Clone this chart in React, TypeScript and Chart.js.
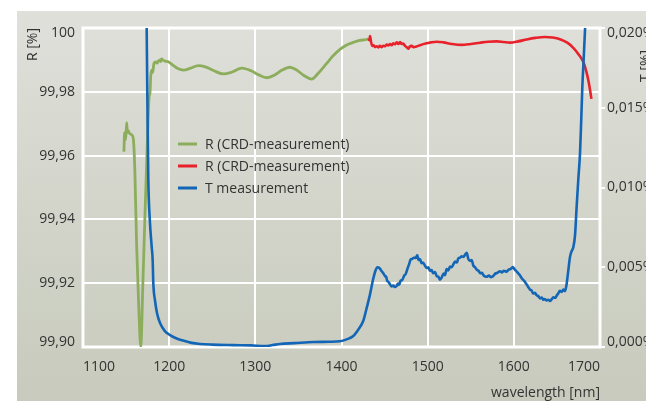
import React, { useEffect, useRef } from 'react';
import { Chart, registerables } from 'chart.js';

Chart.register(...registerables);

const FONT = '"Open Sans", "DejaVu Sans", sans-serif';
const TEXT = '#333333';

// ---- axis ticks ----
const X_TICKS = [1100, 1200, 1300, 1400, 1500, 1600, 1700];
const X_TICK_LABELS = ['1100', '1200', '1300', '1400', '1500', '1600', '1700'];
const R_TICKS = [99.9, 99.92, 99.94, 99.96, 99.98, 100];
const R_TICK_LABELS = ['99,90', '99,92', '99,94', '99,96', '99,98', '100'];
const T_TICKS = [0, 0.005, 0.01, 0.015, 0.02];
const T_TICK_LABELS = ['0,000%', '0,005%', '0,010%', '0,015%', '0,020%'];

const SERIES_LABELS = ['R (CRD-measurement)', 'R (CRD-measurement)', 'T measurement'];
const SERIES_COLORS = ['#8cae5c', '#e8212b', '#1366b6'];

// ---- R (CRD) first part, green ----
const GREEN_NM = [
  1147.5, 1148.3, 1149.5, 1150.7, 1151.5, 1152.5, 1153.7, 1155.5, 1157.2, 1158.6,
  1160.2, 1162.3, 1164.8, 1167.0, 1169.6, 1172.0, 1174.3, 1176.6, 1177.8, 1178.6,
  1179.7, 1180.8, 1182.4, 1184.7, 1186.0, 1187.4, 1189.4, 1190.3, 1191.3, 1192.8,
  1195.2, 1199.0, 1205.0, 1210.0, 1216.4, 1225.0, 1233.8, 1242.0, 1252.0, 1262.8,
  1273.0, 1284.2, 1295.0, 1304.0, 1313.2, 1322.0, 1331.0, 1340.2, 1348.0, 1356.0,
  1365.4, 1373.0, 1382.8, 1390.0, 1398.2, 1406.0, 1413.7, 1421.0, 1429.2, 1431.2,
];
const GREEN_R = [
  99.9612, 99.9672, 99.965, 99.9703, 99.9672, 99.9678, 99.9671, 99.9667, 99.9663, 99.9648,
  99.955, 99.9314, 99.912, 99.9002, 99.921, 99.942, 99.961, 99.978, 99.98, 99.985,
  99.9868, 99.986, 99.9889, 99.9894, 99.989, 99.9896, 99.99, 99.9895, 99.9903, 99.9899,
  99.9896, 99.9894, 99.9882, 99.9873, 99.9868, 99.9874, 99.9882, 99.9878, 99.9866, 99.9856,
  99.9862, 99.9874, 99.9866, 99.9853, 99.9844, 99.9852, 99.9868, 99.9877, 99.9868, 99.9852,
  99.984, 99.9858, 99.9889, 99.9912, 99.9933, 99.9947, 99.9955, 99.9961, 99.9964, 99.9966,
];

// ---- R (CRD) second part, red ----
const RED_NM = [
  1431.2, 1432.2, 1433.1, 1434.2, 1435.8, 1437.5, 1439.0, 1440.8, 1442.5, 1444.5,
  1446.6, 1448.5, 1450.5, 1452.5, 1454.3, 1456.3, 1458.2, 1460.0, 1462.1, 1464.0,
  1466.0, 1467.9, 1469.8, 1471.7, 1473.5, 1475.5, 1477.5, 1479.3, 1481.4, 1483.5,
  1487.2, 1492.0, 1498.8, 1504.0, 1510.5, 1518.2, 1528.0, 1539.5, 1550.0, 1560.8,
  1570.0, 1580.0, 1588.0, 1595.5, 1605.0, 1614.9, 1625.0, 1636.1, 1645.0, 1653.5,
  1662.0, 1669.0, 1675.0, 1680.6, 1684.0, 1686.4, 1688.5, 1690.0,
];
const RED_R = [
  99.9966, 99.9962, 99.9975, 99.9958, 99.9944, 99.9946, 99.994, 99.9943, 99.9939, 99.9944,
  99.994, 99.9944, 99.9943, 99.9948, 99.9945, 99.995, 99.9946, 99.9952, 99.9949, 99.9955,
  99.995, 99.9956, 99.995, 99.9951, 99.9945, 99.994, 99.9935, 99.9942, 99.9944, 99.994,
  99.9942, 99.9947, 99.9952, 99.9955, 99.9957, 99.9955, 99.995, 99.9947, 99.995, 99.9954,
  99.9957, 99.9958, 99.9956, 99.9954, 99.9958, 99.9964, 99.9969, 99.9972, 99.997, 99.9965,
  99.9954, 99.9938, 99.9918, 99.9894, 99.9865, 99.9837, 99.9805, 99.9778,
];

// ---- T measurement, blue (right axis, %) ----
const BLUE_NM = [
  1173.2, 1173.9, 1174.8, 1175.8, 1177.5, 1179.7, 1180.8, 1181.6, 1183.6, 1186.0,
  1189.4, 1195.0, 1201.0, 1208.0, 1216.4, 1226.0, 1235.8, 1250.0, 1274.4, 1295.0,
  1311.2, 1320.0, 1328.6, 1345.0, 1367.3, 1385.0, 1398.2, 1406.0, 1413.7, 1419.0,
  1425.3, 1429.0, 1433.1, 1436.5, 1439.5, 1441.8, 1444.0, 1446.0, 1448.5, 1450.5,
  1452.0, 1453.0, 1454.3, 1456.0, 1458.2, 1460.0, 1462.1, 1464.0, 1465.5, 1467.0,
  1468.5, 1470.5, 1472.5, 1474.5, 1476.5, 1478.5, 1480.2, 1482.0, 1484.0, 1486.0,
  1487.9, 1489.5, 1491.0, 1493.0, 1494.5, 1496.9, 1499.0, 1500.7, 1502.7, 1504.5,
  1506.5, 1508.5, 1510.5, 1512.5, 1514.3, 1516.5, 1518.5, 1520.0, 1522.0, 1524.0,
  1526.0, 1528.0, 1529.8, 1532.0, 1534.0, 1535.5, 1537.5, 1539.5, 1541.5, 1543.5,
  1545.3, 1547.0, 1549.1, 1551.0, 1553.0, 1555.0, 1556.9, 1559.0, 1561.0, 1563.0,
  1565.0, 1568.5, 1571.0, 1573.5, 1576.2, 1578.5, 1581.0, 1584.0, 1586.0, 1588.5,
  1591.7, 1594.0, 1596.5, 1598.7, 1600.5, 1602.5, 1603.8, 1605.1, 1607.0, 1609.0,
  1611.0, 1612.9, 1614.5, 1616.5, 1618.7, 1620.5, 1622.5, 1624.5, 1626.4, 1628.5,
  1630.3, 1632.5, 1634.2, 1636.0, 1638.0, 1640.0, 1641.9, 1644.0, 1645.8, 1648.0,
  1649.7, 1651.5, 1653.5, 1655.5, 1657.5, 1659.3, 1661.0, 1663.0, 1665.2, 1667.0,
  1669.0, 1671.0, 1672.9, 1674.8, 1676.8, 1678.2, 1679.5, 1681.0, 1682.6, 1684.0,
  1685.5,
];
const BLUE_T = [
  0.024, 0.02, 0.015, 0.0105, 0.008, 0.0063, 0.0055, 0.004, 0.0029, 0.0021,
  0.0015, 0.001, 0.00075, 0.00055, 0.0004, 0.00026, 0.00019, 0.00015, 0.00012, 0.0001,
  0.00006, 0.00012, 0.00019, 0.00024, 0.00031, 0.00033, 0.00036, 0.00048, 0.00069, 0.00105,
  0.00165, 0.0024, 0.0033, 0.0042, 0.0048, 0.005, 0.00495, 0.0048, 0.00462, 0.00445,
  0.00438, 0.00415, 0.0041, 0.00395, 0.0038, 0.00385, 0.00376, 0.00382, 0.00398, 0.0039,
  0.00415, 0.0042, 0.00445, 0.00458, 0.0049, 0.0052, 0.00548, 0.00552, 0.0056, 0.00558,
  0.00575, 0.00545, 0.00552, 0.00525, 0.0053, 0.0051, 0.00495, 0.005, 0.00478, 0.00482,
  0.00462, 0.0047, 0.00445, 0.0044, 0.00422, 0.00438, 0.0046, 0.0045, 0.00488, 0.0048,
  0.00505, 0.005, 0.00518, 0.00535, 0.0053, 0.00555, 0.0056, 0.00568, 0.00565, 0.0058,
  0.0059, 0.00555, 0.0054, 0.00545, 0.0051, 0.005, 0.00485, 0.00478, 0.00462, 0.00465,
  0.00448, 0.0044, 0.00448, 0.00438, 0.00445, 0.0046, 0.00465, 0.00475, 0.00468, 0.00478,
  0.00472, 0.00485, 0.0049, 0.00502, 0.0049, 0.00478, 0.0047, 0.00462, 0.0045, 0.00432,
  0.0042, 0.00408, 0.00395, 0.00378, 0.0036, 0.00355, 0.00335, 0.0034, 0.00325, 0.00318,
  0.00305, 0.0031, 0.00296, 0.003, 0.00292, 0.00296, 0.00288, 0.003, 0.00312, 0.00308,
  0.00322, 0.00335, 0.00352, 0.00345, 0.0036, 0.0035, 0.00385, 0.0047, 0.00565, 0.006,
  0.00625, 0.007, 0.0088, 0.0105, 0.01214, 0.0142, 0.01632, 0.018, 0.01987, 0.0215,
  0.0235,
];

const toPoints = (xs: number[], ys: number[]) => xs.map((x, i) => ({ x, y: ys[i] }));

const tickFont = { family: FONT, size: 14, lineHeight: 10 / 14 };
const titleFont = { family: FONT, size: 14 };

const panelPlugin = {
  id: 'panel',
  beforeDraw(chart: any) {
    const { ctx, width, height } = chart;
    ctx.save();
    ctx.fillStyle = '#ffffff';
    ctx.fillRect(0, 0, width, height);
    const g = ctx.createLinearGradient(0, 11, 0, height);
    g.addColorStop(0, '#dfe0da');
    g.addColorStop(1, '#c7cabc');
    ctx.fillStyle = g;
    ctx.fillRect(17, 11, width - 17, height - 11);
    ctx.restore();
  },
  beforeDatasetsDraw(chart: any) {
    const { ctx, chartArea: a } = chart;
    ctx.save();
    ctx.strokeStyle = '#ffffff';
    ctx.lineWidth = 3;
    ctx.strokeRect(a.left, a.top, a.right - a.left, a.bottom - a.top);
    ctx.restore();
  },
  afterDraw(chart: any) {
    const { ctx } = chart;
    ctx.save();
    // legend
    const rows = [144, 166, 188];
    ctx.font = `14px ${FONT}`;
    ctx.textBaseline = 'middle';
    ctx.textAlign = 'left';
    rows.forEach((y, i) => {
      ctx.strokeStyle = SERIES_COLORS[i];
      ctx.lineWidth = 3;
      ctx.beginPath();
      ctx.moveTo(178, y);
      ctx.lineTo(197, y);
      ctx.stroke();
      ctx.fillStyle = TEXT;
      ctx.fillText(SERIES_LABELS[i], 205, y + 1);
    });
    // right axis title (cut at the edge)
    ctx.translate(646, 66);
    ctx.rotate(-Math.PI / 2);
    ctx.textAlign = 'center';
    ctx.fillStyle = TEXT;
    ctx.fillText('T [%]', 0, 0);
    ctx.restore();
  },
};

function edgeLabel(labels: string[], i: number) {
  const s = labels[i];
  if (i === 0) return [s, ''];
  if (i === labels.length - 1) return ['', s];
  return s;
}

export default function App() {
  const ref = useRef<HTMLCanvasElement>(null);
  useEffect(() => {
    document.body.style.margin = '0';
    const canvas = ref.current!;
    const chart = new Chart(canvas, {
      type: 'line',
      data: {
        datasets: [
          {
            label: SERIES_LABELS[2],
            data: toPoints(BLUE_NM, BLUE_T),
            borderColor: SERIES_COLORS[2],
            borderWidth: 2.6,
            yAxisID: 'y2',
            order: 0,
            clip: 0,
          },
          {
            label: SERIES_LABELS[1],
            data: toPoints(RED_NM, RED_R),
            borderColor: SERIES_COLORS[1],
            borderWidth: 2.6,
            yAxisID: 'y',
            order: 1,
          },
          {
            label: SERIES_LABELS[0],
            data: toPoints(GREEN_NM, GREEN_R),
            borderColor: SERIES_COLORS[0],
            borderWidth: 2.8,
            yAxisID: 'y',
            order: 2,
          },
        ],
      },
      options: {
        responsive: false,
        animation: false,
        devicePixelRatio: 1,
        parsing: false as any,
        layout: { padding: { top: 28, left: 0, right: 0, bottom: 0 } },
        elements: {
          point: { radius: 0 },
          line: { cubicInterpolationMode: 'monotone', fill: false },
        },
        plugins: { legend: { display: false }, tooltip: { enabled: false } },
        scales: {
          x: {
            type: 'linear',
            min: 1100,
            max: 1700,
            afterBuildTicks: (s: any) => {
              s.ticks = X_TICKS.map((v) => ({ value: v }));
            },
            afterFit: (s: any) => {
              s.height = 54;
            },
            ticks: {
              callback: (_v: any, i: number) => X_TICK_LABELS[i],
              align: 'inner',
              padding: 12,
              color: TEXT,
              font: { family: FONT, size: 14 },
              maxRotation: 0,
              autoSkip: false,
            },
            grid: { color: '#ffffff', lineWidth: 2, drawTicks: false },
            border: { display: false },
            title: {
              display: true,
              text: 'wavelength [nm]',
              align: 'end',
              color: TEXT,
              font: titleFont,
              padding: { top: 0, bottom: 0 },
            },
          },
          y: {
            type: 'linear',
            position: 'left',
            min: 99.9,
            max: 100,
            afterBuildTicks: (s: any) => {
              s.ticks = R_TICKS.map((v) => ({ value: v }));
            },
            afterFit: (s: any) => {
              s.width = 83;
            },
            ticks: {
              callback: (_v: any, i: number) => edgeLabel(R_TICK_LABELS, i),
              padding: 8,
              color: TEXT,
              font: tickFont,
            },
            grid: { color: '#ffffff', lineWidth: 2, drawTicks: false },
            border: { display: false },
            title: {
              display: true,
              text: 'R [%]',
              align: 'end',
              color: TEXT,
              font: titleFont,
              padding: { top: 25, bottom: 0 },
            },
          },
          y2: {
            type: 'linear',
            position: 'right',
            min: 0,
            max: 0.02,
            afterBuildTicks: (s: any) => {
              s.ticks = T_TICKS.map((v) => ({ value: v }));
            },
            afterFit: (s: any) => {
              s.width = 46;
            },
            ticks: {
              callback: (_v: any, i: number) => edgeLabel(T_TICK_LABELS, i),
              padding: 2,
              color: TEXT,
              font: tickFont,
            },
            grid: {
              drawOnChartArea: false,
              color: '#ffffff',
              lineWidth: 2,
              drawTicks: true,
              tickLength: 5,
            },
            border: { display: false },
            title: { display: false },
          },
        },
      } as any,
      plugins: [panelPlugin],
    });
    return () => chart.destroy();
  }, []);
  return (
    <div style={{ width: 646, height: 401 }}>
      <canvas ref={ref} width={646} height={401} style={{ display: 'block' }} />
    </div>
  );
}
